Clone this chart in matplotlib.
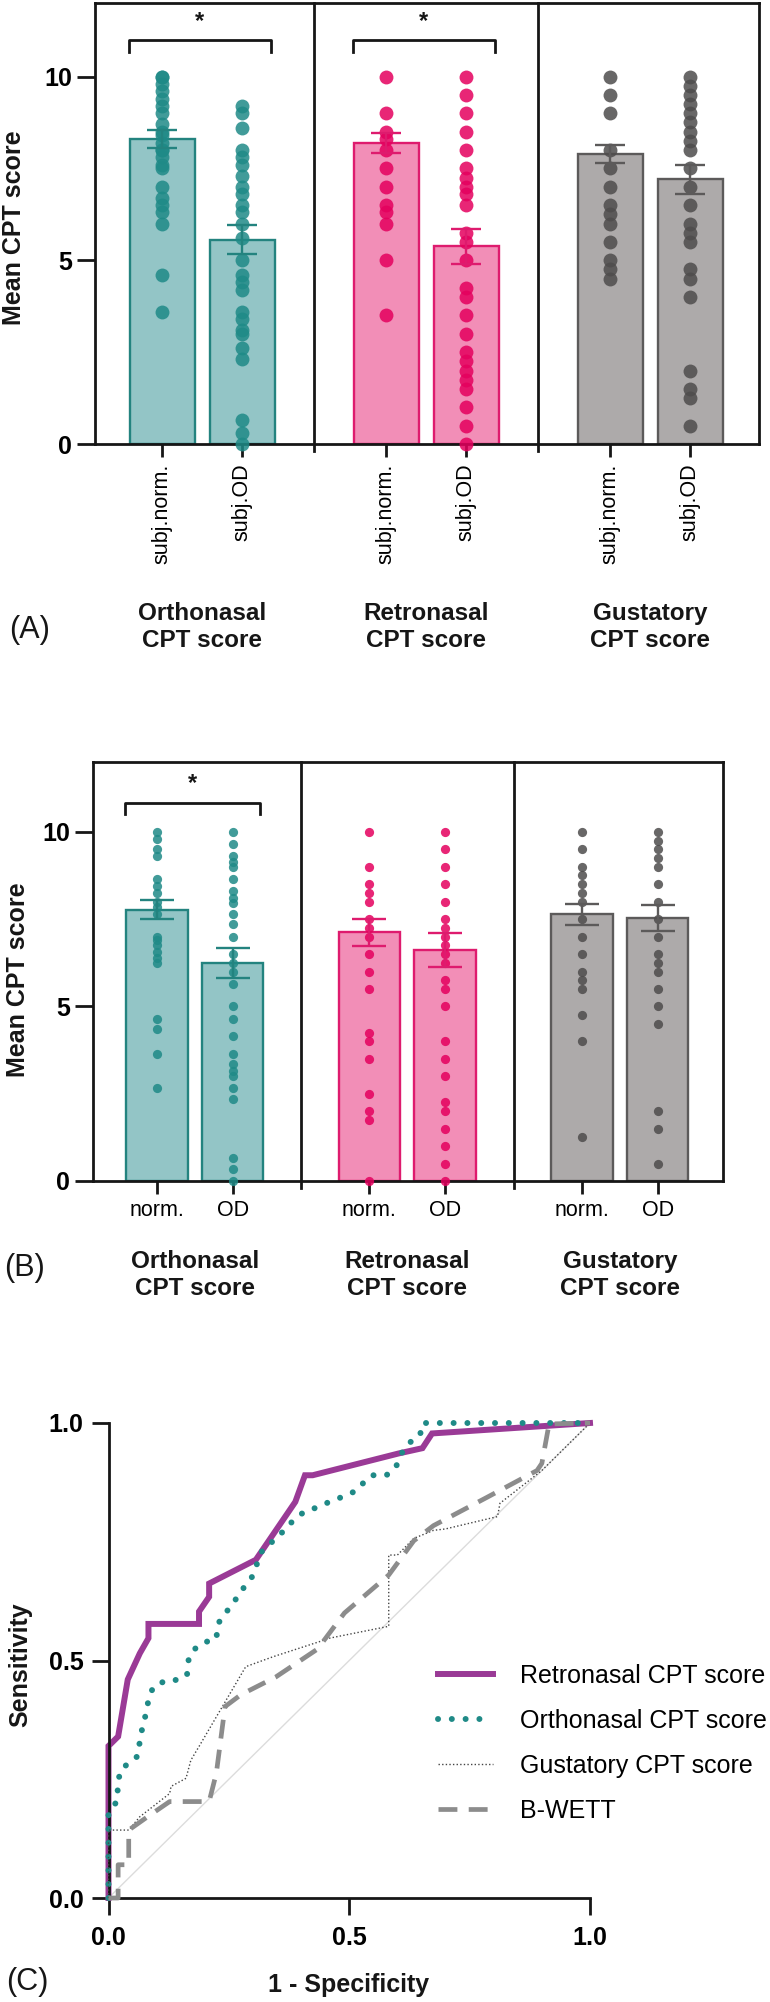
import matplotlib
matplotlib.use('Agg')
import matplotlib.pyplot as plt
from matplotlib.transforms import blended_transform_factory
import numpy as np

plt.rcParams['font.family'] = ['Liberation Sans', 'DejaVu Sans']

# ---------------- data ----------------
groups = ["Orthonasal\nCPT score", "Retronasal\nCPT score", "Gustatory\nCPT score"]
ticklabels_A = ["subj.norm.", "subj.OD", "subj.norm.", "subj.OD", "subj.norm.", "subj.OD"]
ticklabels_B = ["norm.", "OD", "norm.", "OD", "norm.", "OD"]

means_A = [8.30, 5.56, 8.19, 5.38, 7.89, 7.20]
sems_A = [0.24, 0.40, 0.26, 0.47, 0.25, 0.40]
orth_norm_A = [10, 10, 9.8, 9.6, 9.4, 9.2, 9.0, 8.7, 8.5, 8.4, 8.2, 8.0, 8.0, 7.8, 7.6, 7.5,
               7.0, 6.7, 6.5, 6.3, 6.0, 4.6, 3.6]
orth_od_A = [9.2, 9.0, 8.6, 8.0, 7.8, 7.6, 7.3, 7.0, 6.8, 6.5, 6.3, 6.0, 5.6, 5.0, 4.6, 4.4,
             4.2, 3.6, 3.4, 3.1, 3.0, 2.6, 2.3, 0.65, 0.3, 0.0]
retro_norm_A = [10, 9.0, 8.5, 8.3, 8.0, 7.5, 7.0, 6.5, 6.3, 6.0, 5.0, 3.5]
retro_od_A = [10, 9.5, 9.0, 8.5, 8.0, 7.5, 7.25, 7.0, 6.8, 6.5, 5.75, 5.5, 5.0, 4.25, 4.0,
              3.5, 3.0, 2.5, 2.25, 2.0, 1.75, 1.5, 1.0, 0.5, 0.0]
gust_norm_A = [10, 9.5, 9.0, 8.0, 7.5, 7.0, 6.5, 6.25, 6.0, 5.5, 5.0, 4.75, 4.5]
gust_od_A = [10, 9.75, 9.5, 9.25, 9.0, 8.75, 8.5, 8.25, 8.0, 7.5, 7.0, 6.5, 6.0, 5.75, 5.5,
             4.75, 4.5, 4.0, 2.0, 1.5, 1.25, 0.5]

means_B = [7.77, 6.23, 7.12, 6.61, 7.64, 7.53]
sems_B = [0.27, 0.43, 0.39, 0.48, 0.30, 0.37]
orth_norm_B = [10, 9.8, 9.5, 9.3, 8.65, 8.45, 8.25, 8.0, 7.85, 7.65, 7.0, 6.9, 6.75, 6.55,
               6.4, 6.25, 4.65, 4.35, 3.65, 2.65]
orth_od_B = [10, 9.65, 9.3, 9.15, 9.0, 8.65, 8.3, 8.1, 7.95, 7.65, 7.35, 7.0, 6.5, 6.25, 6.0,
             5.65, 5.0, 4.65, 4.15, 3.65, 3.35, 3.15, 3.0, 2.65, 2.35, 0.65, 0.35, 0.0]
retro_norm_B = [10, 9.0, 8.5, 8.25, 8.0, 7.5, 7.25, 7.0, 6.5, 6.0, 5.5, 4.25, 4.0, 3.5, 2.5,
                2.0, 1.75, 0.0]
retro_od_B = [10, 9.5, 9.0, 8.5, 8.0, 7.5, 7.25, 7.0, 6.75, 6.5, 6.25, 5.75, 5.5, 5.0, 4.0,
              3.5, 3.0, 2.25, 2.0, 1.5, 1.0, 0.5, 0.0]
gust_norm_B = [10, 9.5, 9.0, 8.75, 8.5, 8.25, 8.0, 7.5, 7.0, 6.5, 6.0, 5.75, 5.5, 4.75, 4.0, 1.25]
gust_od_B = [10, 9.75, 9.5, 9.25, 9.0, 8.5, 8.0, 7.5, 7.0, 6.5, 6.25, 6.0, 5.5, 5.0, 4.5,
             2.0, 1.5, 0.5]

roc_labels = ["Retronasal CPT score", "Orthonasal CPT score", "Gustatory CPT score", "B-WETT"]
retro_fpr = [0, 0, 0.02, 0.04, 0.065, 0.083, 0.083, 0.188, 0.188, 0.209, 0.209, 0.306, 0.388,
             0.408, 0.424, 0.603, 0.652, 0.672, 1.0]
retro_tpr = [0, 0.32, 0.34, 0.46, 0.515, 0.547, 0.577, 0.577, 0.603, 0.634, 0.662, 0.712, 0.834,
             0.89, 0.89, 0.936, 0.947, 0.978, 1.0]
orth_fpr = [0, 0, 0.019, 0.019, 0.024, 0.045, 0.060, 0.065, 0.070, 0.078, 0.083, 0.093, 0.122,
            0.144, 0.163, 0.166, 0.176, 0.198, 0.224, 0.227, 0.244, 0.263, 0.280, 0.298, 0.318,
            0.340, 0.362, 0.383, 0.405, 0.432, 0.459, 0.487, 0.516, 0.531, 0.547, 0.577, 0.596,
            0.608, 0.623, 0.647, 0.652, 1.0]
orth_tpr = [0, 0.178, 0.206, 0.235, 0.267, 0.288, 0.298, 0.329, 0.357, 0.389, 0.417, 0.445,
            0.459, 0.459, 0.469, 0.500, 0.522, 0.538, 0.545, 0.577, 0.601, 0.627, 0.652, 0.676,
            0.729, 0.750, 0.771, 0.794, 0.812, 0.822, 0.834, 0.845, 0.858, 0.876, 0.890, 0.890,
            0.905, 0.935, 0.957, 0.974, 1.0, 1.0]
gust_fpr = [0, 0, 0.042, 0.065, 0.127, 0.130, 0.161, 0.171, 0.188, 0.285, 0.342, 0.439, 0.459,
            0.582, 0.582, 0.600, 0.634, 0.675, 0.700, 0.808, 0.813, 0.900, 1.0]
gust_tpr = [0, 0.143, 0.143, 0.171, 0.220, 0.235, 0.252, 0.290, 0.319, 0.487, 0.508, 0.540,
            0.547, 0.572, 0.722, 0.722, 0.757, 0.774, 0.777, 0.803, 0.831, 0.900, 1.0]
bwett_fpr = [0, 0.02, 0.02, 0.042, 0.042, 0.081, 0.127, 0.209, 0.224, 0.242, 0.275, 0.347,
             0.434, 0.490, 0.582, 0.634, 0.675, 0.787, 0.890, 0.900, 0.915, 1.0]
bwett_tpr = [0, 0, 0.07, 0.07, 0.143, 0.171, 0.203, 0.203, 0.263, 0.403, 0.428, 0.465, 0.524,
             0.600, 0.680, 0.752, 0.784, 0.844, 0.900, 0.915, 0.998, 1.0]

# ---------------- styling / layout ----------------
W, H = 770, 2002
fig = plt.figure(figsize=(7.7, 20.02), dpi=100)


def fx(px):
    return px / W


def fy(py):
    return 1 - py / H


def rect(l, t, r, b):
    return [l / W, 1 - b / H, (r - l) / W, (b - t) / H]


positions = [0, 1, 2.8, 3.8, 5.6, 6.6]
dividers = [1.9, 4.7]
palette = [("#93C5C6", "#23837F", "#1F8A87"),
           ("#F28EB7", "#DE1B6E", "#E4005E"),
           ("#ADAAAA", "#5C5A5A", "#4E4C4C")]
BLACK = "#161616"


def bar_panel(ax, means, sems, dots, ticklabels, rotated, dot_s, capsize,
              sig_pairs, br_y, br_drop, star_y, group_y, xtick_len, xpad):
    for i, (p, m, s, d) in enumerate(zip(positions, means, sems, dots)):
        fill, edge, dotc = palette[i // 2]
        ax.bar(p, m, width=0.81, color=fill, edgecolor=edge, linewidth=1.7, zorder=2)
        ax.scatter([p] * len(d), d, s=dot_s, color=dotc, alpha=0.85, linewidths=0,
                   zorder=3, clip_on=False)
        ax.errorbar(p, m, yerr=s, fmt='none', ecolor=edge, elinewidth=1.7,
                    capsize=capsize, capthick=1.7, zorder=4)
    ax.set_xlim(-0.84, 7.46)
    ax.set_ylim(0, 12)
    for d in dividers:
        ax.plot([d, d], [-0.2, 12], color=BLACK, lw=2, clip_on=False, zorder=5)
    for sp in ax.spines.values():
        sp.set_linewidth(2)
        sp.set_color(BLACK)
    ax.set_yticks([0, 5, 10])
    ax.set_yticklabels(["0", "5", "10"], fontsize=18, fontweight='bold')
    ax.set_xticks(positions)
    if rotated:
        ax.set_xticklabels(ticklabels, rotation=90, fontsize=15.5)
    else:
        ax.set_xticklabels(ticklabels, fontsize=15.5)
    ax.tick_params(axis='y', length=13, width=2, pad=3.5, color=BLACK)
    ax.tick_params(axis='x', length=xtick_len, width=2, pad=xpad, color=BLACK)
    for (a, b) in sig_pairs:
        x0 = positions[a] - 0.42
        x1 = positions[b] + 0.355
        ax.plot([x0, x0, x1, x1], [br_y - br_drop, br_y, br_y, br_y - br_drop],
                color=BLACK, lw=2, clip_on=False, zorder=5)
        ax.text((x0 + x1) / 2, star_y, "*", ha='center', va='center', fontsize=17,
                fontweight='bold', color=BLACK)
    tr = blended_transform_factory(ax.transData, ax.transAxes)
    for g, name in enumerate(groups):
        xc = (positions[2 * g] + positions[2 * g + 1]) / 2
        ax.text(xc, group_y, name, transform=tr, ha='center', va='center', fontsize=17.5,
                fontweight='bold', linespacing=1.25, color=BLACK)


# Panel A
axA = fig.add_axes(rect(95, 3, 759, 444))
bar_panel(axA, means_A, sems_A,
          [orth_norm_A, orth_od_A, retro_norm_A, retro_od_A, gust_norm_A, gust_od_A],
          ticklabels_A, True, 100, 11, [(0, 1), (2, 3)], 10.98, 0.3, 11.5, -0.415, 9.5, 4.3)
fig.text(fx(14), fy(228), "Mean CPT score", rotation=90, ha='center', va='center',
         fontsize=18, fontweight='bold', color=BLACK)
fig.text(fx(30), fy(630), "(A)", ha='center', va='center', fontsize=22, color=BLACK)

# Panel B
axB = fig.add_axes(rect(93, 762, 723, 1181))
bar_panel(axB, means_B, sems_B,
          [orth_norm_B, orth_od_B, retro_norm_B, retro_od_B, gust_norm_B, gust_od_B],
          ticklabels_B, False, 44, 12, [(0, 1)], 10.83, 0.32, 11.37, -0.224, 9, 5)
fig.text(fx(18), fy(980), "Mean CPT score", rotation=90, ha='center', va='center',
         fontsize=18, fontweight='bold', color=BLACK)
fig.text(fx(24), fy(1268), "(B)", ha='center', va='center', fontsize=22, color=BLACK)

# Panel C (ROC)
axC = fig.add_axes(rect(108.5, 1423, 590, 1898))
axC.plot([0, 1], [0, 1], color="#DCDCDC", lw=1, zorder=1)
l_retro, = axC.plot(retro_fpr, retro_tpr, color="#9A3A96", lw=4.3, solid_joinstyle='miter',
                    clip_on=False, zorder=2)
l_orth, = axC.plot(orth_fpr, orth_tpr, color="#1F8A87", lw=4.3, linestyle=(0, (0.01, 2.3)),
                   dash_capstyle='round', clip_on=False, zorder=3)
l_gust, = axC.plot(gust_fpr, gust_tpr, color="#444444", lw=1.0, linestyle=(0, (1, 1.6)),
                   clip_on=False, zorder=4)
l_bw, = axC.plot(bwett_fpr, bwett_tpr, color="#8C8C8C", lw=3.4, linestyle=(0, (4, 2.4)),
                 clip_on=False, zorder=5)
axC.set_xlim(0, 1)
axC.set_ylim(0, 1)
for s in ['top', 'right']:
    axC.spines[s].set_visible(False)
for s in ['left', 'bottom']:
    axC.spines[s].set_linewidth(2)
    axC.spines[s].set_color(BLACK)
axC.set_xticks([0, 0.5, 1.0])
axC.set_yticks([0, 0.5, 1.0])
axC.set_xticklabels(["0.0", "0.5", "1.0"], fontsize=18, fontweight='bold')
axC.set_yticklabels(["0.0", "0.5", "1.0"], fontsize=18, fontweight='bold')
axC.tick_params(axis='y', length=12, width=2, pad=6, color=BLACK)
axC.tick_params(axis='x', length=12, width=2, pad=8, color=BLACK)
axC.legend([l_retro, l_orth, l_gust, l_bw], roc_labels, loc='upper left',
           bbox_to_anchor=(fx(438), fy(1664)), bbox_transform=fig.transFigure,
           frameon=False, fontsize=18, handlelength=2.2, handletextpad=1.1,
           labelspacing=0.84, borderpad=0, borderaxespad=0)
fig.text(fx(20), fy(1665), "Sensitivity", rotation=90, ha='center', va='center',
         fontsize=18, fontweight='bold', color=BLACK)
fig.text(fx(349), fy(1985), "1 - Specificity", ha='center', va='center',
         fontsize=18, fontweight='bold', color=BLACK)
fig.text(fx(27), fy(1982), "(C)", ha='center', va='center', fontsize=22, color=BLACK)

fig.savefig("out.png", dpi=100)
